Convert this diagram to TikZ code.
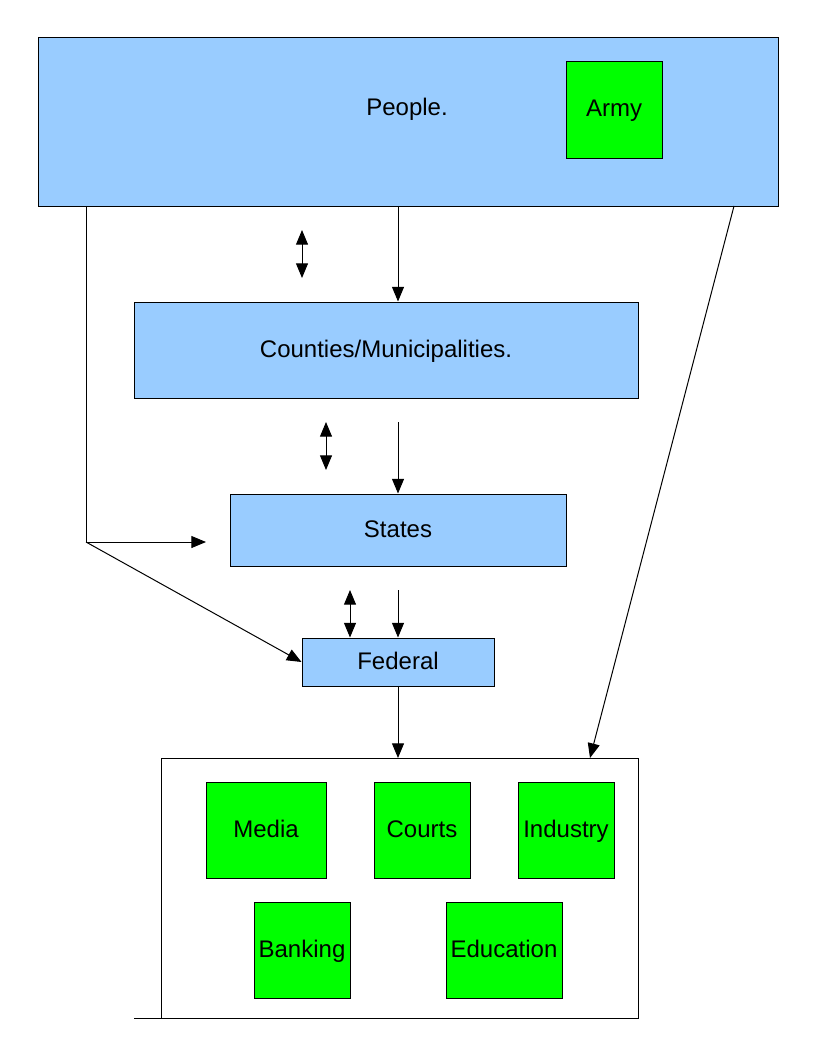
\documentclass[tikz,border=0pt]{standalone}
\usepackage{fontspec}
\setmainfont{Liberation Sans}
\usetikzlibrary{arrows.meta}
\definecolor{lblue}{HTML}{99CCFF}
\definecolor{lgreen}{HTML}{00FF00}
\begin{document}
\begin{tikzpicture}[x=0.75pt,y=-0.75pt,
  txt/.style={font=\fontsize{18}{21}\selectfont,text height=1.05em,text depth=0pt},
  bx/.style={txt,draw=black,line width=0.75pt,fill=lblue},
  gbx/.style={txt,draw=black,line width=0.75pt,fill=lgreen},
  conn/.style={line width=0.75pt,-{Triangle[length=11pt,width=9pt]}},
  dconn/.style={line width=0.75pt,{Triangle[length=11pt,width=9pt]}-{Triangle[length=11pt,width=9pt]}},
  ln/.style={line width=0.75pt}]
\useasboundingbox (0,0) rectangle (816,1056);
% boxes
\path[bx] (38,38) rectangle (778,206);
\node[txt] (people) at (407,108) {People.};
\node[gbx,minimum width=72pt,minimum height=72pt,inner sep=0pt] (army) at (614,110) {Army};
\node[bx,minimum width=378pt,minimum height=72pt,inner sep=0pt] (counties) at (386,350) {Counties/Municipalities.};
\node[bx,minimum width=252pt,minimum height=54pt,inner sep=0pt] (states) at (398,530) {States};
\node[bx,minimum width=144pt,minimum height=36pt,inner sep=0pt] (federal) at (398,662) {Federal};
% bottom box
\coordinate (bTL) at (161,758);
\coordinate (bTR) at (638,758);
\coordinate (bBR) at (638,1018);
\coordinate (bBL) at (161,1018);
\coordinate (bBX) at (134,1018);
\draw[ln] (bTL) -- (bTR) -- (bBR) -- (bBX);
\draw[ln] (bTL) -- (bBL);
\node[gbx,minimum width=90pt,minimum height=72pt,inner sep=0pt] (media) at (266,830) {Media};
\node[gbx,minimum width=72pt,minimum height=72pt,inner sep=0pt] (courts) at (422,830) {Courts};
\node[gbx,minimum width=72pt,minimum height=72pt,inner sep=0pt] (industry) at (566,830) {Industry};
\node[gbx,minimum width=72pt,minimum height=72pt,inner sep=0pt] (banking) at (302,950) {Banking};
\node[gbx,minimum width=87pt,minimum height=72pt,inner sep=0pt] (education) at (504,950) {Education};
% connectors
\coordinate (pBot) at (398,206);
\draw[conn] (pBot) -- (pBot |- counties.north);
\coordinate (d1a) at (302,230); \coordinate (d1b) at (302,278);
\draw[dconn] (d1a) -- (d1b);
\coordinate (d2a) at (326,422); \coordinate (d2b) at (326,470);
\draw[dconn] (d2a) -- (d2b);
\coordinate (c2s) at (398,422);
\draw[conn] (c2s) -- (states.north);
\coordinate (d3a) at (350,590);
\draw[dconn] (d3a) -- (federal.north -| d3a);
\coordinate (s2f) at (398,590);
\draw[conn] (s2f) -- (federal.north);
\coordinate (bTop) at (398,758);
\draw[conn] (federal.south) -- (bTop);
\coordinate (lTop) at (86,206);
\coordinate (lCorner) at (86,542);
\coordinate (lEnd) at (206,542);
\draw[ln] (lTop) -- (lCorner);
\draw[conn] (lCorner) -- (lEnd);
\draw[conn] (lCorner) -- (federal.west);
\coordinate (rTop) at (734,206);
\coordinate (rEnd) at (590,758);
\draw[conn] (rTop) -- (rEnd);
\end{tikzpicture}
\end{document}
